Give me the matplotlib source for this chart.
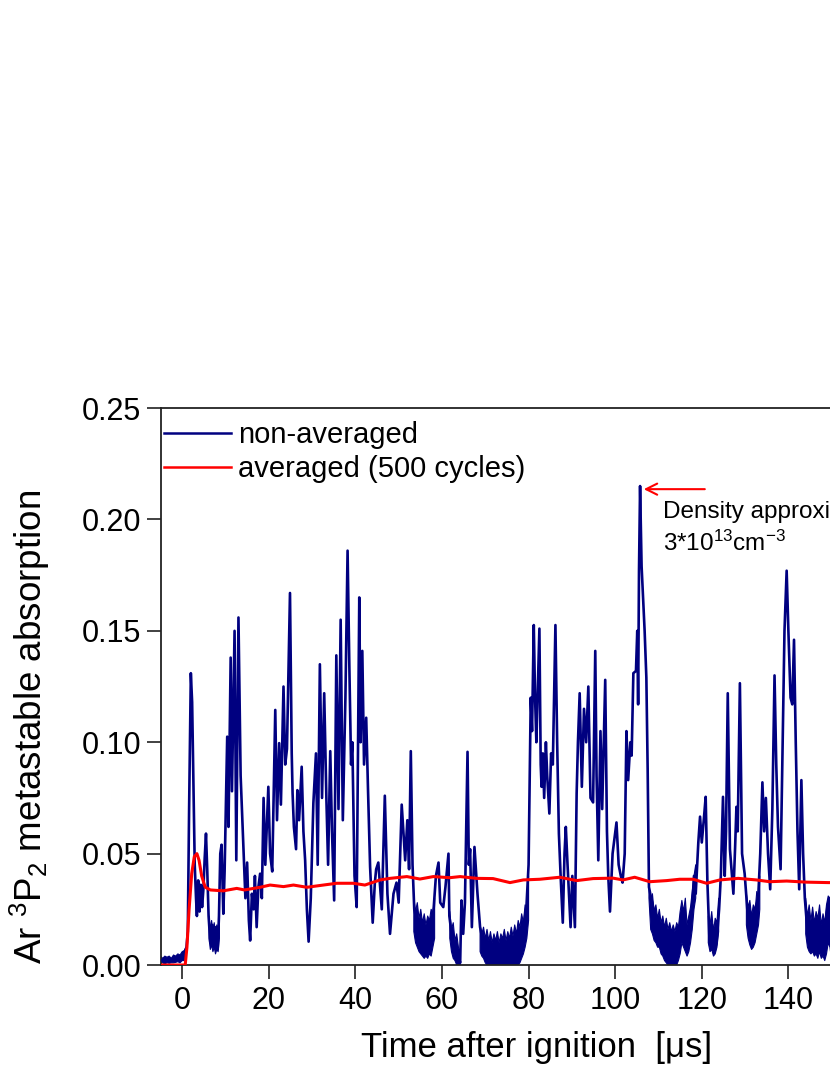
import numpy as np
import matplotlib
matplotlib.use("Agg")
import matplotlib.pyplot as plt
from matplotlib import font_manager

# pick an Arial-like font if present
names = {f.name for f in font_manager.fontManager.ttflist}
main_font = "Liberation Sans" if "Liberation Sans" in names else "DejaVu Sans"
plt.rcParams["font.family"] = [main_font, "DejaVu Sans"]
plt.rcParams["mathtext.fontset"] = "custom"
plt.rcParams["mathtext.rm"] = main_font
plt.rcParams["mathtext.it"] = main_font
plt.rcParams["mathtext.default"] = "regular"

# non-averaged trace (time in us, absorption)
trace_a = [(-5.0, 0.002), (-4.0, 0.0025), (-3.0, 0.002), (-2.0, 0.003), (-1.0, 0.003), (0.0, 0.004),
           (0.6, 0.006), (1.0, 0.008), (1.3, 0.015), (1.6, 0.070), (2.0, 0.131), (2.3, 0.118),
           (2.6, 0.080), (2.9, 0.045), (3.2, 0.030), (3.4, 0.022), (3.7, 0.038), (4.0, 0.024),
           (4.3, 0.036), (4.6, 0.026), (4.9, 0.034), (5.2, 0.048), (5.5, 0.059), (5.8, 0.042),
           (6.1, 0.022), (6.5, 0.010), (7.0, 0.018), (7.4, 0.008), (7.8, 0.017), (8.2, 0.007),
           (8.5, 0.022), (8.8, 0.050), (9.1, 0.054), (9.5, 0.023), (9.8, 0.042), (10.4, 0.1025),
           (10.7, 0.062), (11.2, 0.138), (11.5, 0.078), (12.1, 0.150), (12.5, 0.047), (13.0, 0.156),
           (13.5, 0.085), (14.2, 0.050), (14.6, 0.030), (15.0, 0.046), (15.4, 0.020), (15.7, 0.011),
           (16.1, 0.032), (16.5, 0.025), (16.8, 0.040), (17.2, 0.017), (17.6, 0.035), (18.0, 0.041),
           (18.4, 0.030), (18.8, 0.075), (19.2, 0.045), (19.5, 0.060), (19.9, 0.080)]
trace_b = [(20.3, 0.050), (20.8, 0.042), (21.5, 0.1145), (21.9, 0.065), (22.4, 0.0996), (22.8, 0.072),
           (23.4, 0.125), (23.8, 0.090), (24.2, 0.097), (24.9, 0.167), (25.3, 0.095), (25.5, 0.077),
           (25.8, 0.062), (26.3, 0.052), (26.6, 0.0785), (27.0, 0.065), (27.6, 0.089), (28.0, 0.060),
           (28.4, 0.047), (28.8, 0.025), (29.2, 0.0105), (29.7, 0.030), (30.3, 0.0727), (30.9, 0.095),
           (31.3, 0.045), (31.8, 0.135), (32.3, 0.075), (32.8, 0.122), (33.3, 0.075), (33.7, 0.045),
           (34.2, 0.096), (34.6, 0.060), (35.1, 0.029), (35.6, 0.139), (36.1, 0.070), (36.6, 0.155),
           (37.1, 0.065), (37.7, 0.120), (38.2, 0.186), (38.6, 0.135), (39.0, 0.090), (39.3, 0.100),
           (39.8, 0.040), (40.3, 0.026), (40.9, 0.165), (41.2, 0.100), (41.6, 0.141), (42.0, 0.090),
           (42.5, 0.111), (42.9, 0.080), (43.4, 0.044), (44.0, 0.019), (44.5, 0.037), (44.8, 0.043)]
trace_c = [(45.3, 0.046), (46.1, 0.025), (46.8, 0.076), (47.4, 0.032), (48.0, 0.014), (48.8, 0.032),
           (49.5, 0.037), (50.0, 0.028), (50.7, 0.072), (51.5, 0.047), (52.0, 0.065), (52.4, 0.043),
           (52.8, 0.096), (53.2, 0.045), (53.6, 0.025), (54.5, 0.017), (55.5, 0.012), (56.5, 0.010),
           (57.5, 0.014), (58.1, 0.026), (58.6, 0.040), (59.2, 0.046), (59.6, 0.028), (60.3, 0.026),
           (60.8, 0.035), (61.5, 0.050), (61.7, 0.022), (62.6, 0.008), (63.8, 0.004), (64.2, 0.001),
           (64.5, 0.029), (64.9, 0.014), (65.3, 0.028), (65.9, 0.0957), (66.2, 0.045), (66.5, 0.052),
           (66.9, 0.017), (67.2, 0.035), (67.5, 0.053), (68.2, 0.032), (68.8, 0.017), (69.5, 0.010),
           (71.0, 0.007), (73.0, 0.006), (75.0, 0.006), (77.0, 0.008), (78.5, 0.013), (79.5, 0.026),
           (80.0, 0.045)]
trace_d = [(80.3, 0.090), (80.5, 0.120), (80.8, 0.105), (81.2, 0.1526), (81.5, 0.120), (81.8, 0.100),
           (82.5, 0.151), (82.8, 0.090), (83.0, 0.080), (83.3, 0.095), (83.6, 0.075), (84.0, 0.100),
           (84.3, 0.085), (84.8, 0.068), (85.2, 0.095), (85.6, 0.090), (86.2, 0.1526), (86.6, 0.100),
           (87.0, 0.059), (87.4, 0.040), (87.9, 0.019), (88.3, 0.050), (88.6, 0.062), (89.0, 0.045),
           (89.7, 0.017), (90.1, 0.040), (90.7, 0.017), (91.1, 0.077), (91.4, 0.100), (91.8, 0.122),
           (92.3, 0.080), (92.8, 0.115), (93.3, 0.100), (93.8, 0.125), (94.3, 0.075), (94.9, 0.073),
           (95.4, 0.141), (95.7, 0.085), (96.1, 0.047), (96.6, 0.105), (97.0, 0.070), (97.7, 0.128),
           (98.1, 0.060), (98.4, 0.040), (98.8, 0.024), (99.4, 0.050), (100.3, 0.064), (100.8, 0.045),
           (101.3, 0.040), (101.7, 0.037), (102.2, 0.050), (102.6, 0.105), (103.0, 0.083), (103.5, 0.100),
           (103.8, 0.094), (104.2, 0.131), (104.8, 0.132), (105.1, 0.150), (105.3, 0.117), (105.5, 0.177),
           (105.75, 0.215), (106.1, 0.179), (106.5, 0.162), (106.8, 0.150), (107.2, 0.129), (107.5, 0.088),
           (107.8, 0.035)]
trace_e = [(108.3, 0.030), (109.2, 0.022), (110.3, 0.015), (111.5, 0.010), (112.6, 0.007), (113.4, 0.006),
           (114.5, 0.009), (115.3, 0.022), (116.0, 0.016), (116.8, 0.011), (117.6, 0.020), (118.2, 0.040),
           (118.6, 0.032), (119.2, 0.055), (119.6, 0.0666), (120.0, 0.055), (120.5, 0.066), (120.9, 0.0755),
           (121.3, 0.037), (121.8, 0.010), (122.4, 0.018), (122.9, 0.006), (123.4, 0.010), (124.0, 0.025),
           (124.4, 0.040), (124.9, 0.0755), (125.3, 0.040), (125.6, 0.060), (126.0, 0.122), (126.5, 0.052),
           (127.3, 0.032), (127.7, 0.053), (128.0, 0.071), (128.3, 0.060), (128.8, 0.1265), (129.3, 0.050),
           (129.9, 0.041), (130.7, 0.020), (131.5, 0.010), (132.2, 0.025), (133.0, 0.029), (133.5, 0.050),
           (134.0, 0.082), (134.4, 0.060), (134.8, 0.075), (135.3, 0.050), (135.8, 0.034), (136.3, 0.070),
           (136.8, 0.130), (137.2, 0.090), (137.6, 0.062), (138.2, 0.043), (138.6, 0.090), (139.1, 0.150),
           (139.6, 0.177), (140.0, 0.150), (140.5, 0.120), (140.9, 0.117), (141.3, 0.146), (141.7, 0.100),
           (142.1, 0.060), (142.5, 0.034), (143.0, 0.083), (143.4, 0.050), (143.8, 0.030), (144.2, 0.020),
           (144.7, 0.011), (145.5, 0.015), (146.3, 0.012), (147.0, 0.020), (147.8, 0.010), (148.5, 0.014),
           (149.0, 0.026), (149.5, 0.030), (150.0, 0.008), (150.4, 0.001)]

# noisy floor of the trace: lower / upper edge, nan splits the patches
fuzz_t = [-5.0, -4.5, -4.0, -3.5, -3.0, -2.5, -2.0, -1.5, -1.0, -0.5, 0.0, 0.5, 0.9, np.nan,
          6.2, 6.5, 6.8, 7.1, 7.4, 7.7, 8.0, 8.3, 8.6, np.nan,
          53.5, 53.9, 54.3, 54.7, 55.1, 55.5, 55.9, 56.3, 56.7, 57.1, 57.5, 57.9, 58.3, np.nan,
          61.8, 62.2, 62.6, 63.0, 63.4, 63.8, 64.2, np.nan,
          68.8, 69.2, 69.6, 70.0, 70.4, 70.8, 71.2, 71.6, 72.0, 72.4, 72.8, 73.2, 73.6, 74.0, 74.4,
          74.8, 75.2, 75.6, 76.0, 76.4, 76.8, 77.2, 77.6, 78.0, 78.4, 78.8, 79.2, 79.6, 80.0, np.nan,
          107.8, 108.2, 108.6, 109.0, 109.4, 109.8, 110.2, 110.6, 111.0, 111.4, 111.8, 112.2, 112.6, 113.0,
          113.4, 113.8, 114.2, 114.6, 115.0, 115.4, 115.8, 116.2, 116.6, 117.0, 117.4, 117.8, 118.2, 118.6, np.nan,
          121.5, 121.9, 122.3, 122.7, 123.1, 123.5, 123.9, np.nan,
          130.3, 130.7, 131.1, 131.5, 131.9, 132.3, 132.7, 133.1, 133.4, np.nan,
          144.0, 144.4, 144.8, 145.2, 145.6, 146.0, 146.4, 146.8, 147.2, 147.6, 148.0, 148.4, 148.8,
          149.2, 149.6, 150.0, 150.3]
fuzz_lo = [0.0008, 0.001, 0.0005, 0.001, 0.0008, 0.001, 0.001, 0.0012, 0.0015, 0.001, 0.002, 0.002, 0.003, np.nan,
           0.012, 0.007, 0.009, 0.006, 0.008, 0.005, 0.007, 0.006, 0.012, np.nan,
           0.015, 0.010, 0.008, 0.006, 0.005, 0.004, 0.003, 0.004, 0.003, 0.005, 0.004, 0.008, 0.012, np.nan,
           0.012, 0.006, 0.003, 0.002, 0.0, 0.0, 0.0, np.nan,
           0.006, 0.004, 0.003, 0.001, 0.0, 0.0, 0.0, 0.0, 0.0, 0.0, 0.0, 0.0, 0.0, 0.0, 0.0,
           0.0, 0.0, 0.0, 0.0, 0.0, 0.0, 0.0, 0.0, 0.001, 0.003, 0.005, 0.008, 0.012, 0.020, np.nan,
           0.030, 0.016, 0.014, 0.011, 0.010, 0.008, 0.008, 0.005, 0.004, 0.002, 0.001, 0.0, 0.0, 0.0,
           0.0, 0.0, 0.0, 0.002, 0.005, 0.010, 0.008, 0.006, 0.004, 0.006, 0.010, 0.016, 0.025, 0.030, np.nan,
           0.010, 0.006, 0.007, 0.004, 0.005, 0.008, 0.015, np.nan,
           0.018, 0.012, 0.009, 0.007, 0.008, 0.010, 0.014, 0.018, 0.025, np.nan,
           0.014, 0.008, 0.006, 0.005, 0.006, 0.004, 0.005, 0.003, 0.006, 0.003, 0.004, 0.002, 0.005,
           0.010, 0.008, 0.002, 0.0]
fuzz_hi = [0.004, 0.003, 0.004, 0.0035, 0.004, 0.003, 0.0045, 0.004, 0.005, 0.0045, 0.006, 0.0065, 0.008, np.nan,
           0.022, 0.016, 0.020, 0.015, 0.019, 0.014, 0.018, 0.016, 0.024, np.nan,
           0.030, 0.024, 0.028, 0.021, 0.025, 0.019, 0.023, 0.018, 0.022, 0.020, 0.025, 0.023, 0.030, np.nan,
           0.024, 0.016, 0.019, 0.011, 0.014, 0.008, 0.006, np.nan,
           0.018, 0.014, 0.017, 0.012, 0.016, 0.011, 0.015, 0.010, 0.014, 0.011, 0.015, 0.010, 0.014, 0.012, 0.016,
           0.011, 0.015, 0.012, 0.017, 0.013, 0.018, 0.014, 0.020, 0.017, 0.023, 0.019, 0.027, 0.025, 0.040, np.nan,
           0.036, 0.028, 0.032, 0.024, 0.027, 0.021, 0.025, 0.019, 0.022, 0.017, 0.021, 0.016, 0.019, 0.015,
           0.018, 0.015, 0.019, 0.017, 0.024, 0.029, 0.024, 0.030, 0.018, 0.022, 0.026, 0.033, 0.040, 0.045, np.nan,
           0.022, 0.018, 0.024, 0.015, 0.021, 0.019, 0.030, np.nan,
           0.032, 0.026, 0.029, 0.022, 0.027, 0.024, 0.033, 0.030, 0.040, np.nan,
           0.030, 0.022, 0.027, 0.020, 0.026, 0.019, 0.024, 0.021, 0.027, 0.018, 0.023, 0.019, 0.027,
           0.031, 0.030, 0.020, 0.010]

# averaged over 500 cycles
avg = [(-5.0, 0.0), (0.7, 0.0), (1.1, 0.008), (1.6, 0.025), (2.2, 0.041), (2.8, 0.0486), (3.4, 0.050),
       (3.9, 0.047), (4.5, 0.040), (5.3, 0.035), (6.5, 0.0337), (9.5, 0.0333), (12.6, 0.0344),
       (14.4, 0.0337), (18.0, 0.0349), (20.3, 0.0359), (23.4, 0.0352), (25.7, 0.0359), (28.8, 0.0349),
       (32.6, 0.0359), (35.7, 0.0367), (39.5, 0.0367), (42.2, 0.0359), (45.7, 0.0382), (48.0, 0.0389),
       (51.9, 0.0397), (54.9, 0.0386), (58.0, 0.0397), (61.8, 0.0392), (64.2, 0.0397), (68.0, 0.0389),
       (71.8, 0.0388), (75.7, 0.0370), (78.8, 0.0382), (82.6, 0.0385), (87.2, 0.0394), (91.1, 0.0379),
       (94.9, 0.0388), (99.5, 0.0390), (101.8, 0.0382), (104.5, 0.0394), (108.0, 0.0374), (111.9, 0.0379),
       (114.9, 0.0385), (118.0, 0.0385), (121.1, 0.0367), (124.2, 0.0382), (128.4, 0.0389), (132.6, 0.0382),
       (135.7, 0.0374), (139.6, 0.0377), (144.2, 0.0372), (149.2, 0.0370), (152.0, 0.0370)]

yticks = [0.00, 0.05, 0.10, 0.15, 0.20, 0.25]
xticks = [0, 20, 40, 60, 80, 100, 120, 140]

navy = "#000080"
red = "#ff0000"

fig = plt.figure(figsize=(8.3, 10.75), dpi=100)
# axes runs past the right edge of the canvas, like the cropped original
ax = fig.add_axes([0.1934, 0.1023, 0.8608, 0.5181])

t_raw, v_raw = zip(*(trace_a + trace_b + trace_c + trace_d + trace_e))
ax.fill_between(fuzz_t, fuzz_lo, fuzz_hi, color=navy, lw=0.8, zorder=2)
ax.plot(t_raw, v_raw, color=navy, lw=1.9, zorder=3, label="non-averaged")
ta, va = zip(*avg)
ax.plot(ta, va, color=red, lw=2.2, zorder=4, label="averaged (500 cycles)")

ax.set_xlim(-5, 160)
ax.set_ylim(0, 0.25)
ax.set_xticks(xticks)
ax.set_yticks(yticks)
ax.yaxis.set_major_formatter(plt.FormatStrFormatter("%.2f"))
ax.tick_params(direction="out", length=10, width=1.3, labelsize=22, color="#333333", pad=4)
ax.tick_params(axis="x", pad=5)
for s in ax.spines.values():
    s.set_linewidth(1.3)
    s.set_color("#222222")

fig.text(30 / 830, 1 - 727 / 1075, "Ar $^{3}$P$_{2}$ metastable absorption", rotation=90,
         ha="center", va="center", fontsize=26.5)
fig.text(537 / 830, 1 - 1047 / 1075, "Time after ignition  [\u03bcs]", ha="center", va="center",
         fontsize=25)

leg = ax.legend(loc="upper left", bbox_to_anchor=(0.005, 0.976), frameon=False, fontsize=21,
                borderpad=0, borderaxespad=0, handlelength=2.3, handletextpad=0.25, labelspacing=0.2)
for line in leg.get_lines():
    line.set_linewidth(1.8)

ax.annotate("", xy=(106.6, 0.2136), xytext=(120.7, 0.2136),
            arrowprops=dict(arrowstyle="->", color=red, lw=1.5, mutation_scale=20, shrinkA=0, shrinkB=0))
# the original is cropped at the right edge, only this much of the note shows
ax.text(111.0, 0.2006, "Density approxi", fontsize=17.5, va="baseline")
ax.text(111.0, 0.1858, "3*10$^{13}$cm$^{-3}$", fontsize=17.5, va="baseline")

fig.savefig("out.png", dpi=100)
